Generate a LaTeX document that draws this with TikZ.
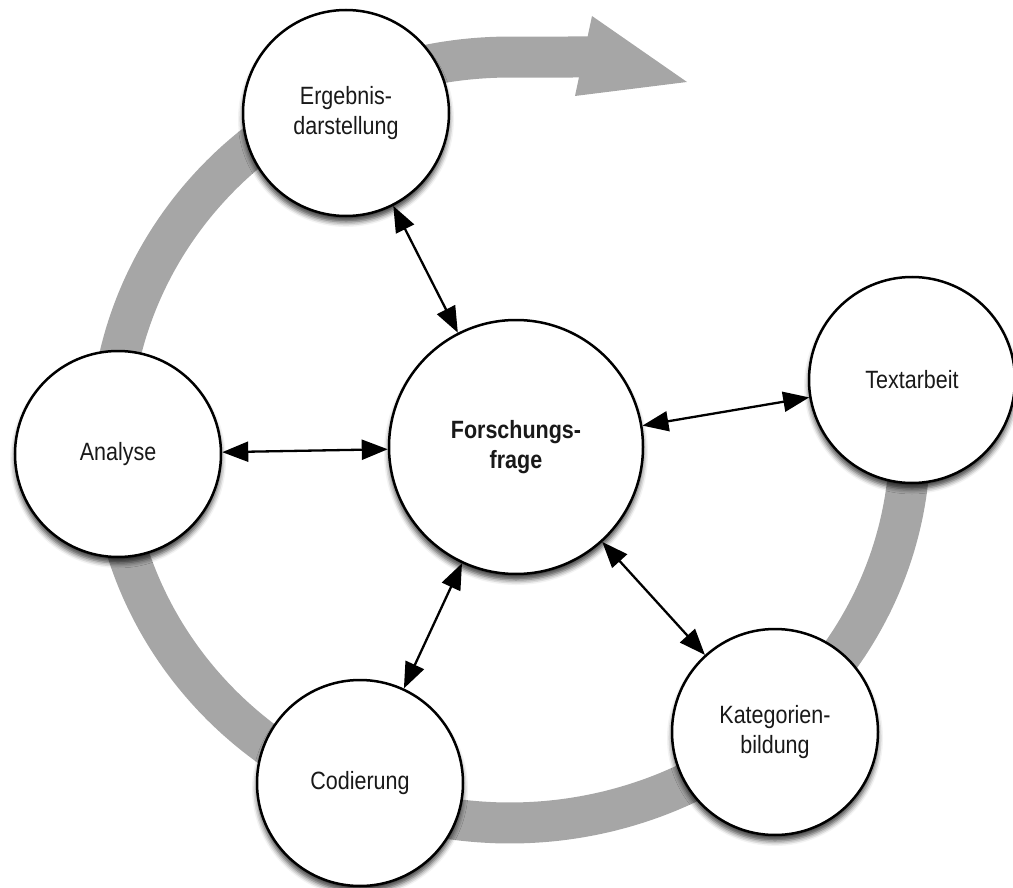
\documentclass[tikz,border=0pt]{standalone}
\usepackage{fontspec}
\setmainfont{Liberation Sans}[FakeStretch=0.86]
\usetikzlibrary{arrows.meta,shadows.blur}
\definecolor{ringgray}{RGB}{166,166,166}
\definecolor{txt}{RGB}{25,25,25}
\begin{document}
\begin{tikzpicture}[x=1pt,y=-1pt,
  phase/.style={circle, draw=black, line width=2.5pt, fill=white,
    minimum size=206pt, inner sep=0pt, align=center, text=txt,
    font=\fontsize{25}{29.5}\selectfont,
    blur shadow={shadow xshift=0pt, shadow yshift=-6pt,
      shadow blur radius=5pt, shadow opacity=75}},
  core/.style={phase, minimum size=254pt,
    font=\fontsize{25}{29.5}\selectfont\bfseries},
  link/.style={{Triangle[length=26pt,width=20pt]}-{Triangle[length=26pt,width=20pt]},
    line width=2.3pt, draw=black},
  ring/.style={draw=ringgray, line width=41pt}
]
\useasboundingbox (0,0) rectangle (1013,888);

% grey cycle arrow
\draw[ring] plot[domain=-5:270, samples=120, smooth]
  ({510+400*cos(\x)}, {440+383*sin(\x)}) -- (592,57);
\fill[ringgray] (592,16) -- (687,82) -- (575,96) -- cycle;

% phases
\node[phase] (erg) at (346,113) {Ergebnis-\\darstellung};
\node[phase] (tex) at (912,380) {Textarbeit};
\node[core]  (fo)  at (516,447) {Forschungs-\\frage};
\node[phase] (ana) at (118,454) {Analyse};
\node[phase] (cod) at (360,783) {Codierung};
\node[phase] (kat) at (775,732) {Kategorien-\\bildung};

% links
\draw[link] (erg) -- (fo);
\draw[link] (fo) -- (tex);
\draw[link] (ana) -- (fo);
\draw[link] (cod) -- (fo);
\draw[link] (fo) -- (kat);
\end{tikzpicture}
\end{document}
